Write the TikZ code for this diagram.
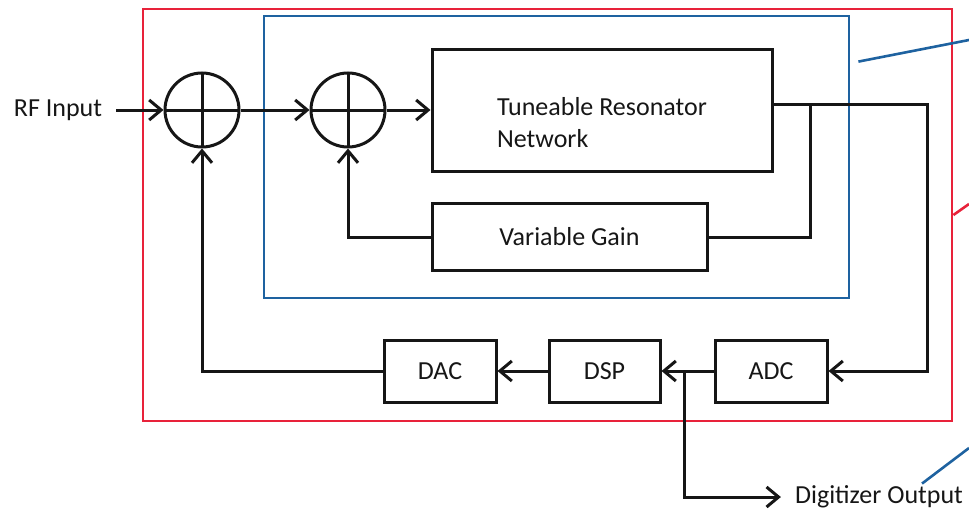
\documentclass[tikz,border=0pt]{standalone}
\usepackage{fontspec}
\setmainfont{Carlito}
\usetikzlibrary{arrows.meta,positioning}
\definecolor{chipred}{RGB}{232,34,58}
\definecolor{loopblue}{RGB}{30,98,160}
\definecolor{ink}{RGB}{22,22,22}
\tikzset{
  >={Straight Barb[length=12pt,width=20pt]},
  blk/.style={draw=ink,line width=3pt,minimum width=#1,align=center,text=ink},
  sum/.style={circle,draw=ink,line width=3pt,minimum size=74pt,inner sep=0pt,
    path picture={\draw[ink,line width=3pt]
      (path picture bounding box.north) -- (path picture bounding box.south)
      (path picture bounding box.west) -- (path picture bounding box.east);}},
  wire/.style={draw=ink,line width=3pt},
  tag/.style={text=ink,inner sep=2pt},
  frame/.style={draw=#1,line width=2.8pt},
  lead/.style={draw=#1,line width=2.6pt},
}
\begin{document}
\begin{tikzpicture}[x=1pt,y=-1pt,font=\fontsize{26}{32}\selectfont]
  \useasboundingbox (0,0) rectangle (969,514);
  % outer and inner frames
  \node[frame=chipred,minimum width=809pt,minimum height=412pt] (chip) at (547.5,215) {};
  \node[frame=loopblue,minimum width=585pt,minimum height=282pt] (loop) at (556.5,157) {};

  \node[sum] (sumA) at (202,110) {};
  \node[sum] (sumB) at (348,110) {};
  \node[blk=340pt,minimum height=122pt,align=left] (tune) at (602,110) {\rule{0pt}{44pt}Tuneable Resonator\\Network};
  \node[blk=275pt,minimum height=67pt] (gain) at (569.5,237) {Variable Gain};
  \node[blk=112pt,minimum height=62pt] (dac) at (440,371) {DAC};
  \node[blk=111pt,minimum height=62pt] (dsp) at (604.5,371) {DSP};
  \node[blk=112pt,minimum height=62pt] (adc) at (771,371) {ADC};
  \node[tag] (rf) at (58,110) {RF Input};
  \node[tag] (out) at (879,497) {Digitizer Output};

  \coordinate (tap) at (810,104);
  \coordinate (bend) at (927,104);
  \coordinate (split) at (684,371);
  \draw[wire,->,shorten <=12pt] (rf.east) -- (sumA.west);
  \draw[wire,->] (sumA.east) -- (sumB.west);
  \draw[wire,->] (sumB.east) -- (tune.west);
  \draw[wire,->] (tune.east |- tap) -- (bend) |- (adc.east);
  \draw[wire] (tap) |- (gain.east);
  \draw[wire,->] (gain.west) -| (sumB.south);
  \draw[wire,->] (adc.west) -- (dsp.east);
  \draw[wire,->] (dsp.west) -- (dac.east);
  \draw[wire,->] (dac.west) -| (sumA.south);
  \draw[wire,->] (split) |- ([xshift=-12pt]out.west);

  % leaders running off the page
  \coordinate (edgeA) at (969,40);
  \coordinate (edgeB) at (969,204);
  \coordinate (edgeC) at (969,448);
  \draw[lead=loopblue] ([shift={(8,47)}]loop.north east) -- (edgeA);
  \draw[lead=chipred] (chip.east) -- (edgeB);
  \draw[lead=loopblue] ([xshift=43pt]out.north) -- (edgeC);
\end{tikzpicture}
\end{document}
